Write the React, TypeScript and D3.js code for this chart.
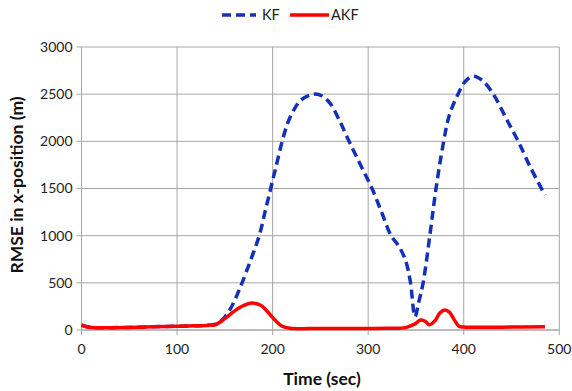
import React from "react";
import * as d3 from "d3";

const kfTime = [0, 10, 30, 60, 90, 120, 130, 140, 148, 155, 161, 168, 177, 186, 192, 198, 204, 210, 216, 222, 230, 243, 252, 260, 270, 280, 292, 304, 314, 324, 332, 339, 344, 349, 353, 357.5, 364.5, 371, 379, 385, 394, 402, 410, 420, 431, 444, 457, 470, 485];
const kfValues = [50, 28, 25, 30, 38, 45, 48, 62, 115, 210, 330, 500, 740, 1000, 1250, 1500, 1750, 2000, 2200, 2330, 2440, 2500, 2480, 2405, 2220, 2000, 1750, 1500, 1250, 1000, 890, 740, 520, 141, 300, 500, 1000, 1500, 2000, 2280, 2500, 2640, 2690, 2640, 2500, 2250, 2000, 1720, 1430];

const akfTime = [0, 5, 10, 30, 60, 90, 120, 135, 140, 150, 160, 170, 179, 188, 195, 203, 210, 218, 240, 280, 320, 339, 348, 355, 360, 364, 370, 375, 380, 385, 390, 395, 400, 440, 485];
const akfValues = [55, 35, 27, 25, 30, 38, 45, 50, 55, 120, 200, 260, 285, 260, 190, 100, 40, 18, 15, 15, 18, 25, 60, 105, 90, 55, 100, 180, 212, 190, 110, 40, 32, 30, 35];

const xTicks = [0, 100, 200, 300, 400, 500];
const yTicks = [0, 500, 1000, 1500, 2000, 2500, 3000];
const seriesNames = ["KF", "AKF"];

const W = 572, H = 391;
const L = 81.5, R = 559.3, T = 47, B = 330;
const FONT = "Lato, 'Open Sans', sans-serif";

export default function App() {
  const x = d3.scaleLinear().domain([0, 500]).range([L, R]);
  const y = d3.scaleLinear().domain([0, 3000]).range([B, T]);
  const line = d3.line<[number, number]>().x(d => x(d[0])).y(d => y(d[1])).curve(d3.curveCatmullRom.alpha(0.5));
  const kf = kfTime.map((t, i) => [t, kfValues[i]] as [number, number]);
  const akf = akfTime.map((t, i) => [t, akfValues[i]] as [number, number]);
  const grid = "#a6a6a6";
  return (
    <svg width={W} height={H} style={{ position: "absolute", left: 0, top: 0 }}>
      <rect width={W} height={H} fill="#fff" />
      {yTicks.map(v => (
        <g key={"y" + v}>
          <line x1={L - 5} x2={R} y1={y(v)} y2={y(v)} stroke={grid} strokeWidth={1} />
          <text x={L - 9} y={y(v)} dy="0.35em" textAnchor="end" fontSize={14} fontFamily={FONT} fill="#222">{v}</text>
        </g>
      ))}
      {xTicks.map(v => (
        <g key={"x" + v}>
          <line x1={x(v)} x2={x(v)} y1={T} y2={B + 5} stroke={grid} strokeWidth={1} />
          <text x={x(v)} y={B + 24} textAnchor="middle" fontSize={14} fontFamily={FONT} fill="#222">{v}</text>
        </g>
      ))}
      <line x1={L} x2={L} y1={T} y2={B} stroke={grid} />
      <line x1={L} x2={R} y1={B} y2={B} stroke={grid} />
      <path d={line(kf) || ""} fill="none" stroke="#1230b8" strokeWidth={3.5} strokeDasharray="9,5" />
      <path d={line(akf) || ""} fill="none" stroke="#ff0000" strokeWidth={3.5} />
      <text x={322} y={385} textAnchor="middle" fontSize={17.5} fontWeight="bold" fontFamily={FONT} fill="#111">Time (sec)</text>
      <text transform={`translate(23,185) rotate(-90)`} textAnchor="middle" fontSize={17.5} fontWeight="bold" fontFamily={FONT} fill="#111">RMSE in x-position (m)</text>
      <g>
        <line x1={222} x2={256} y1={15} y2={15} stroke="#1230b8" strokeWidth={3.5} strokeDasharray="9,5" />
        <text x={262} y={15} dy="0.35em" fontSize={14.5} fontFamily={FONT} fill="#222">{seriesNames[0]}</text>
        <line x1={290} x2={329} y1={15} y2={15} stroke="#ff0000" strokeWidth={3.5} />
        <text x={331} y={15} dy="0.35em" fontSize={14.5} fontFamily={FONT} fill="#222">{seriesNames[1]}</text>
      </g>
    </svg>
  );
}
